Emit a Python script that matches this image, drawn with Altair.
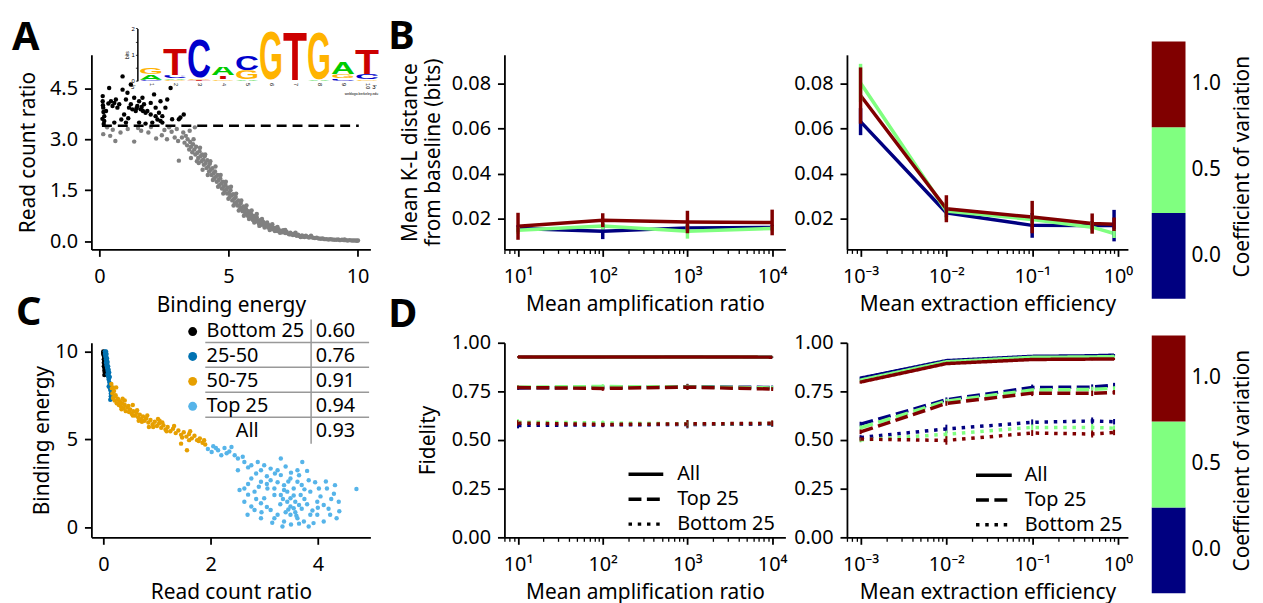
import base64
import numpy as np
import pandas as pd
import altair as alt

FONT = "Noto Sans"
FS = 20      # tick labels and legend text
FT = 21      # axis titles
LOGO_FONT = "Liberation Sans"

CV_DOMAIN = ["0.0", "0.5", "1.0"]
CV_COLORS = ["#000080", "#80ff80", "#800000"]
STYLES = ["All", "Top 25", "Bottom 25"]

# ---------------- Panel A : read count ratio vs binding energy ----------------
a_energy = [
    0.13, 0.13, 0.15, 0.19, 0.38, 0.45, 0.58, 0.64, 0.70, 0.90,
    0.90, 0.96, 1.03, 1.09, 1.15, 1.22, 1.35, 1.41, 1.47, 1.54,
    1.60, 1.67, 1.73, 1.79, 1.86, 1.99, 2.12, 2.18, 2.31, 2.37,
    2.44, 2.56, 2.63, 2.76, 2.82, 3.08, 3.14, 3.27, 0.19, 0.58,
    1.03, 1.54, 1.79, 2.05, 2.37, 2.44, 1.28, 1.44, 1.64, 1.69,
    1.22, 0.77, 0.26, 0.51, 1.99, 2.18, 0.35, 1.12, 2.25, 0.85,
    0.14, 0.16, 0.12, 0.17,
    0.15, 0.42, 0.52, 0.62, 0.82, 1.10, 1.35, 1.62, 1.90, 2.20,
    2.42, 2.52, 2.62, 2.80, 2.92, 3.05, 3.08, 3.00, 0.30, 2.70,
    1.50, 2.00,
    3.20, 3.25, 3.30, 3.35, 3.40, 3.42, 3.48, 3.52, 3.55, 3.60,
    3.63, 3.68, 3.72, 3.75, 3.80, 3.83, 3.88, 3.92, 3.95, 3.98,
    3.50, 3.70, 3.85,
    4.02, 4.05, 4.08, 4.12, 4.15, 4.18, 4.22, 4.25, 4.28, 4.32,
    4.35, 4.38, 4.42, 4.45, 4.48, 4.52, 4.55, 4.58, 4.62, 4.65,
    4.68, 4.72, 4.75, 4.78, 4.82, 4.85, 4.88, 4.92, 4.95, 4.98,
    5.02, 5.05, 5.08, 5.12, 5.15, 5.18, 5.22, 5.25, 5.28, 5.32,
    5.35, 5.38, 5.42, 5.45, 5.48, 5.52, 5.55, 5.58, 5.62, 5.65,
    5.68, 5.72, 5.75, 5.78, 5.82, 5.85, 5.88, 5.92, 5.95, 5.98,
    6.02, 6.06, 6.10, 6.14, 6.18, 6.22, 6.26, 6.30, 6.34, 6.38,
    6.42, 6.46, 6.50, 6.54, 6.58, 6.62, 6.66, 6.70, 6.74, 6.78,
    6.82, 6.86, 6.90, 6.94, 6.98,
    7.04, 7.08, 7.12, 7.16, 7.20, 7.25, 7.30, 7.35, 7.40, 7.45,
    7.50, 7.55, 7.60, 7.65, 7.70, 7.75, 7.80, 7.85, 7.90, 7.95,
    8.05, 8.12, 8.20, 8.28, 8.35, 8.42, 8.50, 8.58, 8.65, 8.72,
    8.80, 8.88, 8.95, 9.02, 9.10, 9.18, 9.25, 9.32, 9.40, 9.48,
    9.55, 9.62, 9.70, 9.78, 9.85, 9.92, 9.98, 10.02, 9.50, 8.00,
    3.55, 3.65, 3.78, 3.90, 4.00, 4.10, 4.20, 4.30, 4.40, 4.50,
    4.60, 4.70, 4.80, 4.90, 5.00, 5.10, 5.20, 5.30, 5.40, 5.50,
    5.60, 5.70, 5.80, 5.90, 6.00, 6.10, 6.20, 6.30, 6.40, 6.50,
    6.60, 6.70, 6.80, 6.90, 7.00, 7.20, 7.40, 7.60, 7.80, 8.20,
]
a_ratio = [
    4.27, 4.12, 3.93, 3.68, 4.51, 4.12, 4.07, 4.17, 3.93, 4.85,
    4.46, 3.73, 4.17, 4.37, 3.93, 4.61, 4.22, 3.83, 3.98, 4.12,
    3.88, 4.22, 4.03, 3.78, 3.83, 4.07, 4.32, 3.93, 3.78, 4.12,
    3.68, 3.93, 4.17, 4.51, 3.59, 3.59, 3.64, 3.73, 3.54, 3.49,
    3.49, 3.49, 3.46, 3.49, 3.54, 3.49, 3.88, 3.91, 3.95, 3.83,
    4.03, 4.03, 3.83, 3.98, 3.73, 3.68, 4.05, 3.62, 3.58, 3.58,
    4.00, 3.80, 3.60, 3.45,
    3.15, 3.10, 3.28, 2.95, 3.20, 3.30, 2.93, 3.25, 3.20, 3.02,
    3.12, 3.27, 3.00, 3.22, 3.05, 2.95, 2.37, 3.30, 3.35, 3.35,
    3.33, 3.36,
    3.05, 3.20, 2.90, 3.10, 2.82, 3.00, 2.70, 2.92, 2.78, 2.62,
    2.85, 2.70, 2.55, 2.78, 2.60, 2.45, 2.65, 2.50, 2.35, 2.55,
    3.25, 3.35, 2.30,
    2.40, 2.25, 2.50, 2.30, 2.15, 2.38, 2.20, 2.05, 2.28, 2.10,
    1.95, 2.15, 2.00, 1.85, 2.05, 1.90, 1.75, 1.95, 1.80, 1.65,
    1.85, 1.70, 1.55, 1.75, 1.60, 1.48, 1.66, 1.52, 1.40, 1.58,
    1.42, 1.30, 1.50, 1.35, 1.20, 1.38, 1.25, 1.12, 1.30, 1.15,
    1.05, 1.20, 1.05, 0.95, 1.12, 0.98, 0.88, 1.02, 0.90, 0.80,
    0.95, 0.82, 0.75, 0.88, 0.76, 0.68, 0.80, 0.70, 0.62, 0.74,
    0.66, 0.58, 0.70, 0.60, 0.52, 0.62, 0.55, 0.48, 0.57, 0.50,
    0.44, 0.52, 0.45, 0.40, 0.47, 0.41, 0.36, 0.43, 0.37, 0.33,
    0.39, 0.34, 0.30, 0.35, 0.31,
    0.30, 0.26, 0.32, 0.27, 0.24, 0.28, 0.23, 0.20, 0.25, 0.21,
    0.18, 0.22, 0.18, 0.16, 0.19, 0.15, 0.14, 0.17, 0.13, 0.12,
    0.13, 0.11, 0.12, 0.10, 0.09, 0.10, 0.08, 0.07, 0.08, 0.06,
    0.06, 0.05, 0.06, 0.05, 0.04, 0.04, 0.05, 0.03, 0.04, 0.03,
    0.03, 0.02, 0.03, 0.02, 0.02, 0.02, 0.01, 0.02, 0.05, 0.16,
    2.45, 3.00, 2.35, 2.75, 2.10, 2.55, 1.95, 2.35, 1.80, 2.20,
    1.60, 1.95, 1.40, 1.75, 1.25, 1.60, 1.05, 1.40, 0.90, 1.20,
    0.75, 1.05, 0.65, 0.90, 0.55, 0.80, 0.45, 0.65, 0.40, 0.55,
    0.33, 0.50, 0.30, 0.42, 0.25, 0.33, 0.20, 0.25, 0.12, 0.16,
]
A_THRESHOLD = 3.4
a_threshold_span = [0.1, 10.05]

# sequence logo (bottom -> top in each column)
logo_pos = [1, 1, 1, 2, 2, 2, 2, 3, 3, 3, 4, 4, 4, 5, 5, 5, 6, 6, 7, 8, 8, 9, 9, 9, 10, 10, 10]
logo_letter = ["C", "A", "G", "G", "A", "C", "T", "T", "G", "C", "G", "T", "A", "A", "G", "C",
               "T", "G", "T", "A", "G", "C", "G", "A", "G", "C", "T"]
logo_bits = [0.03, 0.23, 0.28, 0.03, 0.05, 0.13, 1.05, 0.03, 0.07, 1.56, 0.05, 0.14, 0.35,
             0.04, 0.36, 0.58, 0.02, 1.97, 1.98, 0.03, 1.94, 0.08, 0.16, 0.50, 0.04, 0.21, 1.02]
LOGO_COLORS = {"A": "#00cc00", "C": "#0000cc", "G": "#ffb300", "T": "#cc0000"}

# ---------------- Panel C : binding energy vs read count ratio ----------------
c_top_ratio = [
    2.02, 2.14, 2.26, 2.39, 2.45, 2.51, 2.63, 2.76, 2.88, 3.00,
    3.12, 3.31, 3.31, 2.76, 2.94, 3.12, 3.49, 3.62, 3.83, 3.71,
    2.63, 2.82, 3.00, 3.19, 3.37, 3.49, 3.58, 3.68, 3.86, 3.99,
    4.17, 4.32, 4.72, 4.39, 4.35, 4.23, 4.11, 3.86, 3.74, 3.83,
    3.62, 3.49, 3.37, 3.34, 3.19, 3.12, 2.94, 2.82, 2.69, 2.63,
    2.54, 3.49, 3.43, 3.55, 3.65, 3.43, 3.31, 3.99, 4.11, 3.92,
    4.02, 3.37, 3.19, 2.76, 2.94, 3.06, 3.62, 3.25, 2.94, 2.51,
    2.20, 1.95, 2.05, 2.30, 3.55, 3.70, 3.45, 3.58, 3.30, 3.75,
    2.10, 2.35, 2.60, 2.70, 2.85, 3.05, 3.20, 3.40, 3.50, 3.80,
    2.70, 2.90, 3.05, 3.25, 3.45, 3.65, 3.95, 4.15, 4.30, 4.05,
    3.80, 3.70, 3.60, 3.40, 3.25, 3.05, 2.85, 2.70, 3.50, 3.65,
    3.90, 4.20, 4.40, 3.15, 2.95, 3.35, 3.55, 3.75, 4.00, 4.25,
]
c_top_energy = [
    4.27, 4.37, 4.50, 4.56, 4.09, 3.90, 3.71, 3.52, 3.71, 3.52,
    3.33, 3.90, 2.96, 2.77, 2.58, 2.67, 2.77, 2.58, 2.67, 3.71,
    2.20, 2.02, 1.64, 1.83, 2.11, 1.64, 1.45, 1.83, 2.02, 1.45,
    2.20, 2.39, 2.17, 1.45, 0.51, 0.70, 1.26, 0.70, 0.32, 0.04,
    0.51, 0.70, 0.32, 0.04, 0.51, 0.98, 0.51, 0.98, 0.70, 1.45,
    2.11, 1.17, 1.45, 1.07, 1.26, 2.02, 1.83, 0.70, 0.32, 0.23,
    2.20, 2.39, 2.20, 1.17, 1.36, 2.20, 3.24, 3.24, 3.24, 3.24,
    4.09, 4.45, 4.60, 4.20, 2.20, 2.40, 1.00, 0.85, 1.30, 1.60,
    4.50, 4.30, 4.00, 3.40, 3.05, 2.90, 3.05, 3.45, 3.10, 3.20,
    2.45, 2.30, 2.45, 2.55, 2.60, 2.95, 2.55, 2.60, 1.90, 1.75,
    1.30, 1.05, 0.65, 0.85, 0.70, 1.15, 1.60, 1.85, 0.15, 0.20,
    0.95, 1.05, 0.90, 0.25, 0.85, 1.60, 1.80, 2.15, 1.10, 1.60,
]
c_q3_ratio = [
    0.15, 0.16, 0.17, 0.18, 0.20, 0.21, 0.23, 0.25, 0.27, 0.29,
    0.31, 0.33, 0.35, 0.38, 0.40, 0.42, 0.45, 0.48, 0.50, 0.53,
    0.56, 0.59, 0.62, 0.65, 0.68, 0.71, 0.74, 0.77, 0.80, 0.84,
    0.88, 0.92, 0.96, 1.00, 1.04, 1.08, 1.12, 1.16, 1.20, 1.25,
    1.30, 1.35, 1.40, 1.45, 1.50, 1.55, 1.60, 1.65, 1.70, 1.75,
    1.80, 1.85, 1.90, 1.88, 1.60, 1.02, 0.55, 0.24, 1.45, 0.85,
    1.56, 0.18, 0.22, 0.28, 0.34, 0.40, 0.47, 0.55, 0.63, 0.72,
    0.82, 0.93, 1.05, 1.18, 1.32, 1.47, 1.62, 1.78, 0.36, 0.66,
    1.10,
]
c_q3_energy = [
    8.15, 7.90, 7.60, 7.35, 7.75, 7.20, 7.50, 7.05, 7.30, 6.95,
    7.15, 6.85, 7.05, 6.75, 6.95, 6.60, 6.80, 6.55, 6.70, 6.45,
    6.60, 6.35, 6.50, 6.25, 6.40, 6.15, 6.30, 6.05, 6.20, 5.95,
    6.10, 5.85, 6.00, 5.75, 5.90, 5.65, 5.80, 5.55, 5.70, 5.45,
    5.60, 5.35, 5.50, 5.25, 5.40, 5.15, 5.30, 5.05, 5.20, 4.95,
    5.05, 4.80, 4.70, 4.95, 4.95, 6.15, 6.95, 7.95, 4.75, 5.70,
    4.37, 7.95, 7.45, 7.25, 6.70, 7.20, 6.90, 6.35, 6.65, 6.00,
    6.35, 5.70, 6.05, 5.45, 5.75, 5.10, 5.45, 4.90, 7.30, 6.05,
    5.95,
]
c_q2_ratio = [
    0.03, 0.03, 0.04, 0.04, 0.05, 0.05, 0.05, 0.06, 0.06, 0.07,
    0.07, 0.08, 0.08, 0.09, 0.09, 0.10, 0.10, 0.11, 0.11, 0.12,
    0.12, 0.13, 0.13, 0.14, 0.14, 0.15, 0.06, 0.04, 0.08, 0.10,
    0.07, 0.09, 0.11, 0.12, 0.13, 0.05, 0.06, 0.10, 0.08, 0.14,
]
c_q2_energy = [
    10.0, 9.85, 9.70, 9.90, 9.55, 9.75, 9.35, 9.45, 9.20, 9.30,
    9.05, 8.90, 9.10, 8.75, 8.55, 8.65, 8.40, 8.25, 8.50, 8.10,
    7.95, 7.80, 8.05, 7.60, 7.45, 7.30, 9.65, 9.95, 9.40, 8.95,
    9.60, 9.15, 8.80, 8.55, 7.25, 10.0, 9.85, 8.00, 8.70, 7.85,
]
c_q1_ratio = [0.00, 0.01, 0.00, 0.01, 0.02, 0.01, 0.02, 0.02, 0.01, 0.02, 0.02, 0.03, 0.02, 0.00, 0.01]
c_q1_energy = [10.0, 9.95, 9.85, 9.75, 9.65, 9.55, 9.45, 9.30, 9.15, 9.05, 8.90, 8.80, 8.65, 9.90, 9.35]

c_groups = ["Bottom 25", "25-50", "50-75", "Top 25"]
c_group_colors = ["#000000", "#0072b2", "#e69f00", "#56b4e9"]
c_table_labels = ["Bottom 25", "25-50", "50-75", "Top 25", "All"]
c_table_values = ["0.60", "0.76", "0.91", "0.94", "0.93"]

# ---------------- Panel B : K-L distance ----------------
amp_x = [10, 100, 1000, 10000]
kl_amp_cv0 = [0.0156, 0.0144, 0.0159, 0.0161]
kl_amp_cv05 = [0.0148, 0.0167, 0.0144, 0.0156]
kl_amp_cv1 = [0.0166, 0.0193, 0.0185, 0.0183]
kl_amp_err_cv0 = [0.0015, 0.0035, 0.0012, 0.0012]
kl_amp_err_cv05 = [0.0015, 0.0015, 0.0033, 0.0012]
kl_amp_err_cv1 = [0.0060, 0.0031, 0.0050, 0.0057]

ext_x = [0.001, 0.01, 0.1, 0.5, 0.9]
kl_ext_cv0 = [0.0631, 0.0226, 0.0170, 0.0169, 0.0169]
kl_ext_cv05 = [0.0803, 0.0234, 0.0196, 0.0162, 0.0134]
kl_ext_cv1 = [0.0747, 0.0244, 0.0207, 0.0178, 0.0175]
kl_ext_err_cv0 = [0.0060, 0.0020, 0.0055, 0.0020, 0.0070]
kl_ext_err_cv05 = [0.0085, 0.0040, 0.0020, 0.0025, 0.0020]
kl_ext_err_cv1 = [0.0125, 0.0060, 0.0072, 0.0045, 0.0030]

# ---------------- Panel D : fidelity ----------------
fid_amp_all = [[0.925, 0.926, 0.928, 0.925], [0.926, 0.927, 0.927, 0.926], [0.927, 0.927, 0.927, 0.926]]
fid_amp_top = [[0.768, 0.771, 0.774, 0.770], [0.772, 0.775, 0.773, 0.768], [0.770, 0.765, 0.772, 0.762]]
fid_amp_bot = [[0.575, 0.578, 0.580, 0.582], [0.592, 0.588, 0.583, 0.585], [0.587, 0.580, 0.583, 0.586]]
fid_amp_err_all = [0.004, 0.004, 0.006, 0.004]
fid_amp_err_top = [0.010, 0.012, 0.015, 0.010]
fid_amp_err_bot = [0.015, 0.012, 0.020, 0.015]

fid_ext_all = [[0.818, 0.908, 0.930, 0.933, 0.936], [0.808, 0.902, 0.925, 0.927, 0.929], [0.798, 0.893, 0.914, 0.916, 0.917]]
fid_ext_top = [[0.582, 0.707, 0.770, 0.772, 0.782], [0.563, 0.700, 0.757, 0.760, 0.766], [0.542, 0.688, 0.741, 0.740, 0.745]]
fid_ext_bot = [[0.513, 0.557, 0.591, 0.598, 0.594], [0.500, 0.530, 0.565, 0.565, 0.561], [0.505, 0.498, 0.536, 0.531, 0.539]]
fid_ext_err_all = [0.008, 0.006, 0.006, 0.006, 0.006]
fid_ext_err_top = [0.012, 0.012, 0.015, 0.014, 0.012]
fid_ext_err_bot = [0.012, 0.022, 0.015, 0.018, 0.014]

cbar_lo = [-0.25, 0.25, 0.75]
cbar_hi = [0.25, 0.75, 1.25]
cbar_ticks = [0.0, 0.5, 1.0]

# ============================ helpers ============================
cv_scale = alt.Scale(domain=CV_DOMAIN, range=CV_COLORS)
dash_scale = alt.Scale(domain=STYLES, range=[[1, 0], [13, 5.5], [3.5, 5.8]])
MAJOR_TEST = "abs(log(datum.value) / LN10 - round(log(datum.value) / LN10)) < 0.001"
ROW_H = 196
PANEL_W = 283


def letter_url(ch):
    svg = ('<svg xmlns="http://www.w3.org/2000/svg" width="100" height="75" '
           'viewBox="0 -73.5 100 75" preserveAspectRatio="none">'
           '<text x="0" y="0" font-family="Liberation Sans, Arial, DejaVu Sans, sans-serif" '
           'font-weight="bold" font-size="100" textLength="100" lengthAdjust="spacingAndGlyphs" '
           f'fill="{LOGO_COLORS[ch]}">{ch}</text></svg>')
    return "data:image/svg+xml;base64," + base64.b64encode(svg.encode("utf-8")).decode("ascii")


def panel_letter(ch, x, y):
    return alt.Chart(pd.DataFrame({"t": [ch]})).mark_text(
        fontSize=40, fontWeight="bold", align="left", baseline="alphabetic", font=FONT, color="black"
    ).encode(text="t:N", x=alt.value(x), y=alt.value(y))


def log_axis(majors, labels, lo, hi, title):
    vals = list(majors)
    e0 = int(np.floor(np.log10(lo)))
    e1 = int(np.ceil(np.log10(hi)))
    for e in range(e0, e1 + 1):
        for k in range(2, 10):
            v = round(k * 10.0 ** e, 12)
            if lo <= v <= hi:
                vals.append(v)
    vals = sorted(vals)
    expr = "".join(f"abs(datum.value / {m} - 1) < 0.001 ? '{lab}' : " for m, lab in zip(majors, labels)) + "''"
    return alt.Axis(values=vals, labelExpr=expr, title=title, labelPadding=10, titlePadding=8,
                    tickSize={"condition": {"test": MAJOR_TEST, "value": 7}, "value": 4},
                    tickWidth={"condition": {"test": MAJOR_TEST, "value": 1.8}, "value": 1.3})


def spacer(w):
    return alt.Chart(pd.DataFrame({"v": [0]})).mark_point(opacity=0).encode(
        x=alt.value(0), y=alt.value(0)).properties(width=w, height=ROW_H)


def colorbar_layer(x0, r_bottom, r_top, title_y):
    """Discrete colour bar drawn to the right of a panel (positions in px from the panel's left edge)."""
    cb_df = pd.DataFrame({"lo": cbar_lo, "hi": cbar_hi, "cv": CV_DOMAIN})
    tk_df = pd.DataFrame({"v": cbar_ticks, "lab": [f"{t:.1f}" for t in cbar_ticks]})
    cb_y = alt.Scale(domain=[-0.25, 1.25], range=[r_bottom, r_top])
    rect = alt.Chart(cb_df).mark_rect().encode(
        x=alt.value(x0), x2=alt.value(x0 + 34),
        y=alt.Y("lo:Q", scale=cb_y, axis=None), y2="hi:Q",
        color=alt.Color("cv:N", scale=cv_scale, legend=None))
    ticks = alt.Chart(tk_df).mark_text(align="left", baseline="middle", fontSize=FT, font=FONT,
                                       color="black").encode(
        x=alt.value(x0 + 40), y=alt.Y("v:Q", scale=cb_y, axis=None), text="lab:N")
    title = alt.Chart(pd.DataFrame({"t": ["Coefficient of variation"]})).mark_text(
        angle=270, align="center", baseline="middle", fontSize=FT, font=FONT, color="black").encode(
        x=alt.value(x0 + 92), y=alt.value(title_y), text="t:N")
    return alt.layer(rect, ticks, title)


# ============================ Panel A ============================
a_df = pd.DataFrame({"energy": a_energy, "ratio": a_ratio})
a_df["grp"] = np.where(a_df["ratio"] > A_THRESHOLD, "above", "below")
a_df = a_df.sort_values("grp", ascending=False, kind="stable")
a_x = alt.Scale(domain=[-0.308, 10.5], nice=False, zero=False)
a_y = alt.Scale(domain=[-0.243, 5.485], nice=False, zero=False)
a_pts = alt.Chart(a_df).mark_circle(size=20, opacity=1).encode(
    x=alt.X("energy:Q", scale=a_x, axis=alt.Axis(values=[0, 5, 10], title="Binding energy",
                                                 labelPadding=10, titlePadding=9)),
    y=alt.Y("ratio:Q", scale=a_y, axis=alt.Axis(values=[0, 1.5, 3, 4.5], format=".1f",
                                                title="Read count ratio", titlePadding=11)),
    color=alt.Color("grp:N", scale=alt.Scale(domain=["below", "above"], range=["#808080", "#000000"]),
                    legend=None),
)
thr_df = pd.DataFrame({"x0": [a_threshold_span[0]], "x1": [a_threshold_span[1]], "y": [A_THRESHOLD]})
a_rule = alt.Chart(thr_df).mark_rule(color="black", strokeWidth=2.5, strokeDash=[10, 6]).encode(
    x=alt.X("x0:Q", scale=a_x), x2="x1:Q", y=alt.Y("y:Q", scale=a_y))
a_main = alt.layer(a_pts, a_rule, panel_letter("A", -80, -5))

logo_df = pd.DataFrame({"pos": logo_pos, "letter": logo_letter, "h": logo_bits})
logo_df["y1"] = logo_df.groupby("pos")["h"].cumsum()
logo_df["y0"] = logo_df["y1"] - logo_df["h"]
logo_df["x0"] = logo_df["pos"] - 0.5
logo_df["x1"] = logo_df["pos"] + 0.5
logo_df["url"] = logo_df["letter"].map(letter_url)
lx = alt.Scale(domain=[0.5, 10.5], range=[48, 289.7])
ly = alt.Scale(domain=[0, 2], range=[26, -26.6])
logo_img = alt.Chart(logo_df).mark_image(aspect=False).encode(
    x=alt.X("x0:Q", scale=lx, axis=alt.Axis(
        orient="bottom", offset=26 - ROW_H, values=list(range(1, 11)), format="d", labelAngle=90,
        labelAlign="left", labelBaseline="middle", labelFontSize=5.5, labelFont=LOGO_FONT,
        domain=False, ticks=False, labelPadding=2, title=None)),
    x2="x1:Q",
    y=alt.Y("y1:Q", scale=ly, axis=alt.Axis(
        orient="left", offset=-46.3, values=[0, 0.5, 1, 1.5, 2],
        labelExpr="datum.value % 1 == 0 ? format(datum.value, 'd') : ''",
        labelFontSize=6, labelFont=LOGO_FONT, tickSize=2, tickWidth=0.8, domainWidth=1.5,
        labelPadding=1, title="bits", titleFontSize=5, titleFont=LOGO_FONT, titlePadding=2)),
    y2="y0:Q",
    url="url:N",
)
logo_ann = alt.layer(
    alt.Chart(pd.DataFrame({"t": ["5'"]})).mark_text(fontSize=6, font=LOGO_FONT).encode(
        text="t:N", x=alt.value(42), y=alt.value(32.7)),
    alt.Chart(pd.DataFrame({"t": ["3'"]})).mark_text(fontSize=6, font=LOGO_FONT).encode(
        text="t:N", x=alt.value(285), y=alt.value(32.7)),
    alt.Chart(pd.DataFrame({"t": ["weblogo.berkeley.edu"]})).mark_text(fontSize=3.5, font=LOGO_FONT).encode(
        text="t:N", x=alt.value(272), y=alt.value(39.7)),
)
panel_a = alt.layer(a_main, alt.layer(logo_img, logo_ann)).resolve_scale(
    x="independent", y="independent").properties(width=281, height=ROW_H)

# ============================ Panel C ============================
c_frames = []
for g, rr, ee in zip(c_groups, [c_q1_ratio, c_q2_ratio, c_q3_ratio, c_top_ratio],
                     [c_q1_energy, c_q2_energy, c_q3_energy, c_top_energy]):
    c_frames.append(pd.DataFrame({"ratio": rr, "energy": ee, "grp": g}))
c_df = pd.concat(c_frames, ignore_index=True)
grp_scale = alt.Scale(domain=c_groups, range=c_group_colors)
c_x = alt.Scale(domain=[-0.222, 4.98], nice=False, zero=False)
c_y = alt.Scale(domain=[-0.58, 10.49], nice=False, zero=False)
c_pts = alt.Chart(c_df).mark_circle(size=20, opacity=1).encode(
    x=alt.X("ratio:Q", scale=c_x, axis=alt.Axis(values=[0, 2, 4], title="Read count ratio",
                                                labelPadding=10, titlePadding=8)),
    y=alt.Y("energy:Q", scale=c_y, axis=alt.Axis(values=[0, 5, 10], title="Binding energy", titlePadding=2)),
    color=alt.Color("grp:N", scale=grp_scale, legend=None),
)
tbl_df = pd.DataFrame({"label": c_table_labels, "val": c_table_values,
                       "grp": c_groups + ["All"], "row": list(range(len(c_table_labels)))})
t_y = alt.Scale(domain=[0, 4], range=[-11.3, 89.1])
tbl_marker = alt.Chart(tbl_df).transform_filter("datum.row < 4").mark_circle(size=80, opacity=1).encode(
    x=alt.value(102), y=alt.Y("row:Q", scale=t_y, axis=None),
    color=alt.Color("grp:N", scale=grp_scale, legend=None))
tbl_label = alt.Chart(tbl_df).transform_filter("datum.row < 4").mark_text(
    align="left", baseline="middle", fontSize=FS, font=FONT, color="black").encode(
    x=alt.value(116), y=alt.Y("row:Q", scale=t_y, axis=None), text="label:N")
tbl_all = alt.Chart(tbl_df).transform_filter("datum.row == 4").mark_text(
    align="center", baseline="middle", fontSize=FS, font=FONT, color="black").encode(
    x=alt.value(157), y=alt.Y("row:Q", scale=t_y, axis=None), text="label:N")
tbl_val = alt.Chart(tbl_df).mark_text(
    align="left", baseline="middle", fontSize=FS, font=FONT, color="black").encode(
    x=alt.value(226), y=alt.Y("row:Q", scale=t_y, axis=None), text="val:N")
tbl_hline = alt.Chart(tbl_df).transform_filter("datum.row < 4").mark_rule(
    color="#999999", strokeWidth=1.5, yOffset=11).encode(
    x=alt.value(114.7), x2=alt.value(279.7), y=alt.Y("row:Q", scale=t_y, axis=None))
tbl_vline = alt.Chart(pd.DataFrame({"v": [0]})).mark_rule(color="#999999", strokeWidth=1.5).encode(
    x=alt.value(221.3), y=alt.value(-23.3), y2=alt.value(101.7))
panel_c = alt.layer(
    alt.layer(c_pts, panel_letter("C", -76, -18)),
    alt.layer(tbl_hline, tbl_vline, tbl_marker, tbl_label, tbl_all, tbl_val),
).resolve_scale(y="independent").properties(width=281, height=ROW_H)


# ============================ Panel B ============================
def kl_panel(xs, series, errs, xdom, majors, labels, xtitle, ytitle, letter=None, cbar=None):
    rows = []
    for cv, vals, er in zip(CV_DOMAIN, series, errs):
        for x, v, e in zip(xs, vals, er):
            rows.append({"x": x, "cv": cv, "val": v, "lo": v - e, "hi": v + e})
    df = pd.DataFrame(rows)
    xs_ = alt.Scale(type="log", domain=xdom, nice=False)
    ys_ = alt.Scale(domain=[0.00632, 0.0928], nice=False, zero=False)
    yax = alt.Axis(values=[0.02, 0.04, 0.06, 0.08], format=".2f", title=ytitle, titlePadding=8,
                   titleLineHeight=23)
    line = alt.Chart(df).mark_line(strokeWidth=3.5).encode(
        x=alt.X("x:Q", scale=xs_, axis=log_axis(majors, labels, xdom[0], xdom[1], xtitle)),
        y=alt.Y("val:Q", scale=ys_, axis=yax),
        color=alt.Color("cv:N", scale=cv_scale, legend=None))
    err = alt.Chart(df).mark_rule(strokeWidth=3.5).encode(
        x=alt.X("x:Q", scale=xs_), y=alt.Y("lo:Q", scale=ys_), y2="hi:Q",
        color=alt.Color("cv:N", scale=cv_scale, legend=None))
    layers = [line, err]
    if letter:
        layers.append(panel_letter(letter, -117, -6))
    main = alt.layer(*layers)
    if cbar is not None:
        return alt.layer(main, cbar).resolve_scale(y="independent").properties(width=PANEL_W, height=ROW_H)
    return main.properties(width=PANEL_W, height=ROW_H)


AMP_DOM = [6.909, 14330]
EXT_DOM = [6.94e-4, 1.305]
AMP_MAJ = [10, 100, 1000, 10000]
AMP_LAB = ["10¹", "10²", "10³", "10⁴"]
EXT_MAJ = [0.001, 0.01, 0.1, 1]
EXT_LAB = ["10⁻³", "10⁻²", "10⁻¹", "10⁰"]

panel_bl = kl_panel(amp_x, [kl_amp_cv0, kl_amp_cv05, kl_amp_cv1],
                    [kl_amp_err_cv0, kl_amp_err_cv05, kl_amp_err_cv1], AMP_DOM, AMP_MAJ, AMP_LAB,
                    "Mean amplification ratio", ["Mean K-L distance", "from baseline (bits)"], letter="B")
panel_br = kl_panel(ext_x, [kl_ext_cv0, kl_ext_cv05, kl_ext_cv1],
                    [kl_ext_err_cv0, kl_ext_err_cv05, kl_ext_err_cv1], EXT_DOM, EXT_MAJ, EXT_LAB,
                    "Mean extraction efficiency", None,
                    cbar=colorbar_layer(307, 245.7, -13.3, 112.7))


# ============================ Panel D ============================
def fid_panel(xs, series, errs, xdom, majors, labels, xtitle, ytitle, leg_x0, leg_x1, leg_tx, leg_rng,
              letter=None, cbar=None):
    rows = []
    for ci, cv in enumerate(CV_DOMAIN):
        for st in STYLES:
            for x, v, e in zip(xs, series[st][ci], errs[st]):
                rows.append({"x": x, "cv": cv, "style": st, "val": v, "lo": v - e, "hi": v + e})
    df = pd.DataFrame(rows)
    xs_ = alt.Scale(type="log", domain=xdom, nice=False)
    ys_ = alt.Scale(domain=[0, 1], nice=False, zero=False)
    yax = alt.Axis(values=[0, 0.25, 0.5, 0.75, 1.0], format=".2f", title=ytitle, titlePadding=13)
    line = alt.Chart(df).mark_line(strokeWidth=3.5).encode(
        x=alt.X("x:Q", scale=xs_, axis=log_axis(majors, labels, xdom[0], xdom[1], xtitle)),
        y=alt.Y("val:Q", scale=ys_, axis=yax),
        color=alt.Color("cv:N", scale=cv_scale, legend=None),
        strokeDash=alt.StrokeDash("style:N", scale=dash_scale, legend=None))
    err = alt.Chart(df).mark_rule(strokeWidth=2).encode(
        x=alt.X("x:Q", scale=xs_), y=alt.Y("lo:Q", scale=ys_), y2="hi:Q",
        color=alt.Color("cv:N", scale=cv_scale, legend=None))
    main = [err, line]
    if letter:
        main.append(panel_letter(letter, -117, -16))
    leg_df = pd.DataFrame({"style": STYLES, "row": list(range(len(STYLES)))})
    leg_y = alt.Scale(domain=[0, 2], range=leg_rng)
    leg_rule = alt.Chart(leg_df).mark_rule(strokeWidth=3.5, color="black").encode(
        x=alt.value(leg_x0), x2=alt.value(leg_x1), y=alt.Y("row:Q", scale=leg_y, axis=None),
        strokeDash=alt.StrokeDash("style:N", scale=dash_scale, legend=None))
    leg_txt = alt.Chart(leg_df).mark_text(align="left", baseline="middle", fontSize=FS, font=FONT,
                                          color="black").encode(
        x=alt.value(leg_tx), y=alt.Y("row:Q", scale=leg_y, axis=None), text="style:N")
    parts = [alt.layer(*main), alt.layer(leg_rule, leg_txt)]
    if cbar is not None:
        parts.append(cbar)
    return alt.layer(*parts).resolve_scale(y="independent").properties(width=PANEL_W, height=ROW_H)


panel_dl = fid_panel(amp_x, {"All": fid_amp_all, "Top 25": fid_amp_top, "Bottom 25": fid_amp_bot},
                     {"All": fid_amp_err_all, "Top 25": fid_amp_err_top, "Bottom 25": fid_amp_err_bot},
                     AMP_DOM, AMP_MAJ, AMP_LAB, "Mean amplification ratio", "Fidelity",
                     125, 160, 174, [132.4, 182.7], letter="D")
panel_dr = fid_panel(ext_x, {"All": fid_ext_all, "Top 25": fid_ext_top, "Bottom 25": fid_ext_bot},
                     {"All": fid_ext_err_all, "Top 25": fid_ext_err_top, "Bottom 25": fid_ext_err_bot},
                     EXT_DOM, EXT_MAJ, EXT_LAB, "Mean extraction efficiency", None,
                     130, 166, 179, [133.4, 183.4],
                     cbar=colorbar_layer(307, 252.4, -7.3, 118.7))

chart = alt.concat(
    panel_a, spacer(135), panel_bl, spacer(62), panel_br,
    panel_c, spacer(135), panel_dl, spacer(62), panel_dr,
    columns=5, spacing=alt.RowColnumber(row=94, column=0), bounds="flush", align="each",
).resolve_scale(color="independent", strokeDash="independent").properties(
    padding={"left": 4, "top": 7, "right": 2, "bottom": 2}
).configure(font=FONT).configure_view(stroke=None).configure_axis(
    labelFont=FONT, titleFont=FONT, labelFontSize=FS, titleFontSize=FT, titleFontWeight="normal",
    labelColor="black", titleColor="black", domainColor="black", tickColor="black",
    domainWidth=1.8, tickWidth=1.8, tickSize=7, grid=False, labelFlush=False, labelOverlap=False,
    labelPadding=7,
)

chart.save("out.html", embed_options={"renderer": "svg", "actions": False})
